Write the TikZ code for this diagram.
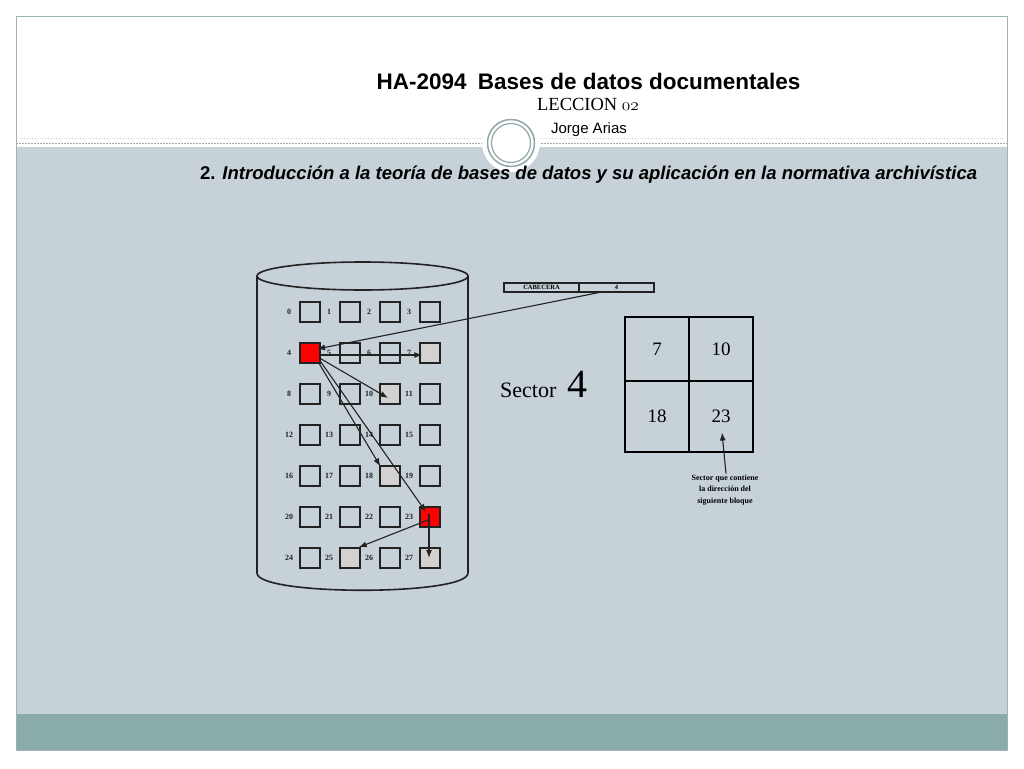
\documentclass[tikz,border=0pt]{standalone}
\usepackage{fontspec}
\setmainfont{Liberation Serif}
\newfontfamily\sansf{Liberation Sans}
\usetikzlibrary{arrows.meta,calc}
\definecolor{bodygray}{HTML}{C6D2D8}
\definecolor{tealband}{HTML}{89ABA9}
\definecolor{framec}{HTML}{9DB4B4}
\definecolor{ringc}{HTML}{8FA7A7}
\definecolor{boxgray}{HTML}{D3D1D1}
\definecolor{ink}{HTML}{222222}
\definecolor{dotc}{HTML}{A8A8A8}
\begin{document}
\begin{tikzpicture}[x=1pt,y=-1pt,
  sq/.style={draw=ink,line width=1.3pt,minimum size=20pt,inner sep=0pt},
  num/.style={font=\bfseries\fontsize{8}{8}\selectfont,inner sep=0pt,text=ink},
  arr/.style={draw=ink,line width=1.1pt,-{Latex[length=8pt,width=6pt]}},
  cell/.style={draw=black,line width=1.4pt,minimum width=64pt,inner sep=0pt,font=\fontsize{19}{20}\selectfont},
  cab/.style={draw=ink,line width=1.3pt,minimum width=75pt,minimum height=9pt,inner sep=0pt,font=\bfseries\fontsize{6.5}{6.5}\selectfont}]
\useasboundingbox (0,0) rectangle (1024,768);
\fill[white] (0,0) rectangle (1024,768);
\fill[bodygray] (16,147) rectangle (1007,714);
\fill[tealband] (16,714) rectangle (1007,750);
\draw[framec,line width=0.8pt] (16,16) rectangle (1007,750);
\draw[dotc,line width=0.8pt,dash pattern=on 2pt off 1pt] (16,143) -- (1007,143);
\draw[dotc!50,line width=0.5pt,dash pattern=on 1pt off 1pt] (20,138) -- (1003,138);
% ornament
\fill[white] (511,143) circle[radius=29pt];
\draw[ringc,line width=1.5pt] (511,143) circle[radius=23.5pt];
\draw[ringc,line width=1.2pt] (511,143) circle[radius=19.5pt];
% titles
\node[anchor=base,inner sep=0pt] (ttl) at (588.5,89) {\sansf\bfseries\fontsize{22.5}{26}\selectfont HA-2094\hspace{0.5em}Bases de datos documentales};
\node[anchor=base,inner sep=0pt] (lec) at (588,110) {\fontsize{18.5}{20}\selectfont LECCION {\fontencoding{OML}\fontfamily{cmm}\fontseries{m}\fontshape{it}\selectfont 02}};
\node[anchor=base,inner sep=0pt] (aut) at (589,133) {\sansf\fontsize{15}{17}\selectfont Jorge Arias};
\node[anchor=base west,inner sep=0pt] (sub) at (200,179) {\sansf\bfseries\fontsize{18.5}{20}\selectfont 2. \textit{Introducción a la teoría de bases de datos y su aplicación en la normativa archivística}};
% cylinder
\draw[ink,line width=1.6pt] (257,276) -- (257,573) .. controls (257,596) and (468,596) .. (468,573) -- (468,276);
\draw[ink,line width=1.6pt] (362.5,276) ellipse[x radius=105.5pt,y radius=14pt];
% squares
\foreach \i/\f in {0/none,1/none,2/none,3/none,4/red,5/none,6/none,7/boxgray,
  8/none,9/none,10/boxgray,11/none,12/none,13/none,14/none,15/none,
  16/none,17/none,18/boxgray,19/none,20/none,21/none,22/none,23/red,
  24/none,25/boxgray,26/none,27/boxgray} {
  \pgfmathtruncatemacro\cc{mod(\i,4)}
  \pgfmathtruncatemacro\rr{div(\i,4)}
  \node[sq,fill=\f] (s\i) at ({310+40*\cc},{312+41*\rr}) {};
  \node[num] (n\i) at ({289+40*\cc},{312+41*\rr}) {\i};
}
% header box
\node[cab] (cabL) at (541.5,287.5) {CABECERA};
\node[cab] (cab4) at (616.5,287.5) {4};
% arrows in cylinder
\draw[arr] ($(cab4.south)+(-18,0)$) -- ($(s4.center)+(7,-4)$);
\draw[arr] ($(s4.east)+(0,2)$) -- ($(s7.west)+(3,2)$);
\draw[arr] ($(s4.south east)+(0,-5)$) -- ($(s10.center)+(-2,4)$);
\draw[arr] ($(s4.south east)+(-2,-1)$) -- ($(s18.north west)+(1,1)$);
\draw[arr] ($(s4.south east)+(0,-2)$) -- ($(s23.center)+(-4,-5)$);
\draw[arr] ($(s23.center)+(-2,3)$) -- ($(s25.north east)+(-2,0)$);
\draw[arr] ($(s23.center)+(-1,-3)$) -- ($(s27.center)+(-1,0)$);
% sector label
\node[anchor=base west,inner sep=0pt] (sec) at (500,397) {\fontsize{22}{24}\selectfont Sector};
\node[anchor=base west,inner sep=0pt] (sec4) at (567,397) {\fontsize{40}{40}\selectfont 4};
% table
\node[cell,minimum height=64pt] (c7) at (657,349) {7};
\node[cell,minimum height=64pt] (c10) at (721,349) {10};
\node[cell,minimum height=71pt] (c18) at (657,416.5) {18};
\node[cell,minimum height=71pt] (c23) at (721,416.5) {23};
\node[align=center,inner sep=1pt,font=\bfseries\fontsize{8}{11.5}\selectfont] (cap) at (725,490) {Sector que contiene\\la dirección del\\siguiente bloque};
\draw[arr] ($(cap.north)+(1,0)$) -- ($(c23.center)+(1,16)$);
\end{tikzpicture}
\end{document}
